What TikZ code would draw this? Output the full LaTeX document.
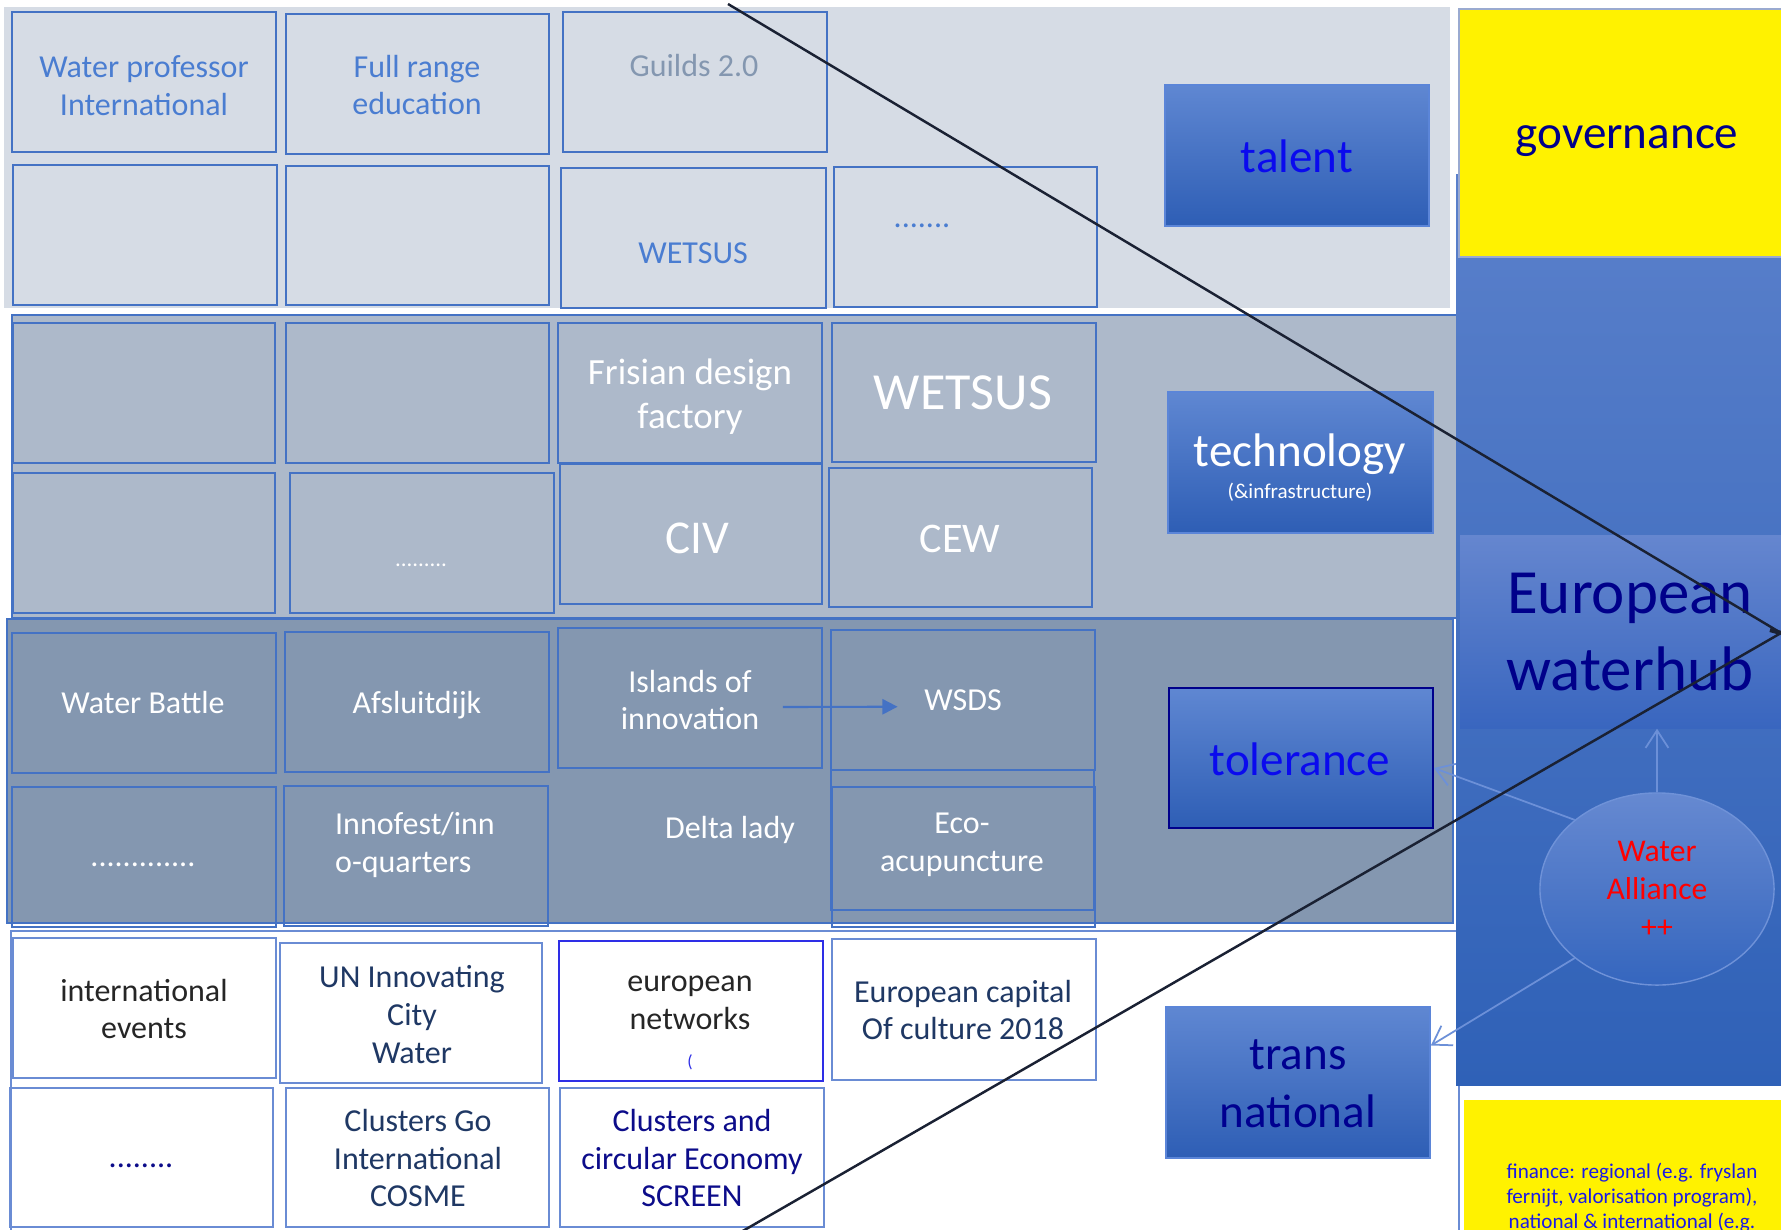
\documentclass[tikz,border=0pt]{standalone}
\usepackage{fontspec}
\setmainfont{Carlito}
\usetikzlibrary{fit,shapes.geometric,arrows.meta}
\definecolor{bandA}{HTML}{D6DCE5}
\definecolor{bandB}{HTML}{ADB9CA}
\definecolor{bandC}{HTML}{8497B0}
\definecolor{cellline}{HTML}{4472C4}
\definecolor{cellline4}{HTML}{6A8CD4}
\definecolor{netline}{HTML}{2E2EE6}
\definecolor{txtA}{HTML}{4A7DD1}
\definecolor{guild}{HTML}{8497B0}
\definecolor{navyA}{HTML}{1F3864}
\definecolor{darkA}{HTML}{262626}
\definecolor{navyB}{HTML}{0C0C8A}
\definecolor{hubtop}{HTML}{5A80CB}
\definecolor{hubbot}{HTML}{2F61B7}
\definecolor{whtop}{HTML}{6586CF}
\definecolor{whbot}{HTML}{3966BF}
\definecolor{hubtxt}{HTML}{00008A}
\definecolor{labtop}{HTML}{5F87D2}
\definecolor{labbot}{HTML}{2E5EB5}
\definecolor{labline}{HTML}{5B85D8}
\definecolor{talenttxt}{HTML}{0A0AEE}
\definecolor{transtxt}{HTML}{000090}
\definecolor{eltop}{HTML}{6689D1}
\definecolor{elbot}{HTML}{3566BE}
\definecolor{ellline}{HTML}{6F92D8}
\definecolor{arrcol}{HTML}{6C90D8}
\definecolor{govline}{HTML}{9AAAD0}
\definecolor{fintxt}{HTML}{1A1AE6}
\definecolor{linecol}{HTML}{1A2133}
\definecolor{tolline}{HTML}{00008B}
\begin{document}
\begin{tikzpicture}[x=0.01cm,y=-0.01cm,
  cellbox/.style={draw=cellline, line width=0.5pt, inner sep=0pt},
  cellboxw/.style={draw=cellline4, line width=0.5pt, inner sep=0pt},
  labbox/.style={draw=labline, line width=0.5pt, inner sep=0pt, top color=labtop, bottom color=labbot},
  labtxt/.style={inner sep=0pt, align=center, font=\fontsize{13.4}{16.5}\selectfont},
  txt/.style={inner sep=0pt, align=center, font=\fontsize{9.1}{10.8}\selectfont},
  lightarrow/.style={draw=arrcol, line width=0.5pt, -{Straight Barb[length=5pt,width=6.5pt]}},
  bluearrow/.style={draw=cellline, line width=0.6pt, -{Triangle[length=4.3pt,width=4.3pt]}},
  blackline/.style={draw=linecol, line width=0.7pt}]
\useasboundingbox (0,0) rectangle (1781,1230);
\clip (0,0) rectangle (1781,1230);
\fill[white] (0,0) rectangle (1781,1230);
% bands
\filldraw[fill=bandA, draw=white, line width=1pt] (2,5) rectangle (1452,310);
\filldraw[fill=bandB, draw=cellline, line width=0.5pt] (12,315) rectangle (1457,618);
\filldraw[fill=bandC, draw=cellline, line width=0.5pt] (7,619) rectangle (1453,923);
\draw[draw=cellline4, line width=0.5pt] (11,931) rectangle (1459,1240);
% hub column
\shade[top color=hubtop, bottom color=hubbot] (1456,174) rectangle (1800,1085);
\node[fit={(1460,535) (1800,728)}, inner sep=0pt, top color=whtop, bottom color=whbot] (hub) {};
\node[inner sep=0pt, text=hubtxt, align=center, font=\fontsize{17.9}{21.9}\selectfont] (hubt) at (1630,632) {European\\waterhub};
\node[ellipse, minimum width=2.34cm, minimum height=1.92cm, inner sep=0pt, draw=ellline, line width=0.4pt, top color=eltop, bottom color=elbot, text=red, align=center, font=\fontsize{9}{10.8}\selectfont] (wa) at (1657,889) {Water\\Alliance\\++};
% yellow boxes
\node[fit={(1459,9) (1800,257)}, inner sep=0pt, fill=yellow, draw=govline, line width=0.4pt] (gov) {};
\node[anchor=base, inner sep=0pt, text=hubtxt, font=\fontsize{13.4}{16}\selectfont] (govt) at (1627,148) {governance};
\node[fit={(1464,1100) (1800,1300)}, inner sep=0pt, fill=yellow] (fin) {};
\node[anchor=north, inner sep=0pt, align=center, text=fintxt, font=\fontsize{6}{7.1}\selectfont] (fint) at (1632,1162) {finance: regional (e.g. fryslan\\fernijt, valorisation program),\\national \& international (e.g.};
% label boxes
\node[labbox, fit={(1165,85) (1429,226)}] (tal) {};
\node[labbox, fit={(1168,392) (1433,533)}] (tec) {};
\node[labbox, fit={(1169,688) (1433,828)}, draw=tolline] (tol) {};
\node[labbox, fit={(1166,1007) (1430,1158)}] (trn) {};
\node[labtxt, anchor=base, text=talenttxt] (talt) at (1297,172) {talent};
\node[labtxt, text=white, font=\fontsize{6}{9.1}\selectfont] (tect) at (1300,468) {{\fontsize{13.4}{16}\selectfont technology}\\(\&infrastructure)};
\node[labtxt, anchor=base, text=talenttxt] (tolt) at (1300,775) {tolerance};
\node[labtxt, text=transtxt] (trnt) at (1298,1084) {trans\\national};
% band 1 cells
\node[cellbox, fit={(12,12) (276,152)}] (a1) {};
\node[cellbox, fit={(286,14) (549,154)}] (a2) {};
\node[cellbox, fit={(563,12) (827,152)}] (a3) {};
\node[cellbox, fit={(13,165) (277,305)}] (b1) {};
\node[cellbox, fit={(286,166) (549,305)}] (b2) {};
\node[cellbox, fit={(561,168) (826,308)}] (b3) {};
\node[cellbox, fit={(834,167) (1097,307)}] (b4) {};
\node[txt, text=txtA] (a1t) at (144,86) {Water professor\\International};
\node[txt, text=txtA] (a2t) at (417,85) {Full range\\education};
\node[txt, text=guild, anchor=base] (a3t) at (694,76) {Guilds 2.0};
\node[txt, text=txtA, anchor=base] (b3t) at (693,263) {WETSUS};
\node[txt, text=txtA, anchor=base] (b4t) at (922,227) {.......};
% band 2 cells
\node[cellbox, fit={(13,323) (275,463)}] (c1) {};
\node[cellbox, fit={(286,323) (549,463)}] (c2) {};
\node[cellbox, fit={(558,323) (822,463)}] (c3) {};
\node[cellbox, fit={(832,323) (1096,462)}] (c4) {};
\node[cellbox, fit={(13,473) (275,613)}] (d1) {};
\node[cellbox, fit={(290,473) (554,613)}] (d2) {};
\node[cellbox, fit={(560,464) (822,604)}] (d3) {};
\node[cellbox, fit={(829,468) (1092,607)}] (d4) {};
\node[txt, text=white, font=\fontsize{10.5}{12.5}\selectfont] (c3t) at (690,397) {Frisian design\\factory};
\node[txt, text=white, anchor=base, font=\fontsize{14.8}{18}\selectfont] (c4t) at (963,409) {WETSUS};
\node[txt, text=white, anchor=base, font=\fontsize{6.5}{8}\selectfont] (d2t) at (421,566) {.........};
\node[txt, text=white, anchor=base, font=\fontsize{13.4}{16}\selectfont] (d3t) at (697,553) {CIV};
\node[txt, text=white, anchor=base, font=\fontsize{12}{14}\selectfont] (d4t) at (960,552) {CEW};
% band 3 cells
\node[cellbox, fit={(12,633) (276,773)}] (e1) {};
\node[cellbox, fit={(285,632) (549,772)}] (e2) {};
\node[cellbox, fit={(558,628) (822,768)}] (e3) {};
\node[cellbox, fit={(831,630) (1095,770)}] (e4) {};
\node[cellbox, fit={(12,787) (276,927)}] (f1) {};
\node[cellbox, fit={(284,786) (548,926)}] (f2) {};
\node[cellbox, fit={(831,770) (1094,910)}] (f4a) {};
\node[cellbox, fit={(832,787) (1095,927)}] (f4) {};
\node[txt, text=white, anchor=base] (e1t) at (143,713) {Water Battle};
\node[txt, text=white, anchor=base] (e2t) at (417,713) {Afsluitdijk};
\node[txt, text=white] (e3t) at (690,700) {Islands of\\innovation};
\node[txt, text=white, anchor=base] (e4t) at (963,710) {WSDS};
\node[txt, text=white, anchor=base] (f1t) at (143,866) {.............};
\node[txt, text=white, align=left] (f2t) at (415,845) {Innofest/inn\\o-quarters};
\node[txt, text=white, anchor=base] (dlt) at (730,838) {Delta lady};
\node[txt, text=white] (f4t) at (962,845) {Eco-\\acupuncture};
% band 4 cells
\node[cellboxw, fit={(13,938) (276,1078)}] (g1) {};
\node[cellboxw, fit={(280,943) (542,1083)}] (g2) {};
\node[cellbox, fit={(559,941) (823,1081)}, draw=netline, line width=0.6pt] (g3) {};
\node[cellboxw, fit={(832,939) (1096,1080)}] (g4) {};
\node[cellboxw, fit={(10,1088) (273,1227)}] (h1) {};
\node[cellboxw, fit={(286,1088) (549,1227)}] (h2) {};
\node[cellboxw, fit={(560,1088) (824,1227)}] (h3) {};
\node[txt, text=darkA] (g1t) at (144,1009) {international\\events};
\node[txt, text=navyA] (g2t) at (412,1015) {UN Innovating\\City\\Water};
\node[txt, text=darkA] (g3t) at (690,1023) {european\\networks\\{\fontsize{5}{6}\selectfont\color{netline}(}};
\node[txt, text=navyA] (g4t) at (963,1010) {European capital\\Of culture 2018};
\node[txt, text=navyB, anchor=base] (h1t) at (141,1167) {........};
\node[txt, text=navyA] (h2t) at (418,1158) {Clusters Go\\International\\COSME};
\node[txt, text=navyB] (h3t) at (692,1158) {Clusters and\\circular Economy\\SCREEN};
% arrows
\draw[bluearrow] ([shift={(23,7)}]e3t.east) -- ([shift={(-26,7)}]e4t.west);
\draw[lightarrow] (wa.north) -- (wa.north |- hub.south);
\draw[lightarrow] (wa.140) -- ([yshift=-0.1cm]tol.east);
\draw[lightarrow] (wa.220) -- ([yshift=0.37cm]trn.east);
% black lines
\coordinate (ltop) at (728,4);
\coordinate (lbot) at (741,1232);
\coordinate (apex) at (1781,633);
\draw[blackline] (ltop) -- (apex) -- (lbot);
\draw[draw=linecol, line width=1.2pt] (1770,630) -- (apex);
\end{tikzpicture}
\end{document}
